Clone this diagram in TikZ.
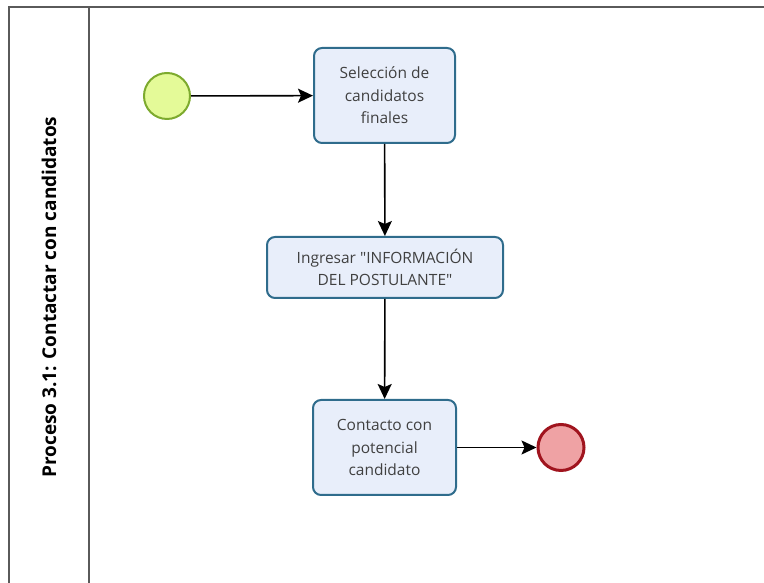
\documentclass[tikz,border=0pt]{standalone}
\usepackage{fontspec}
\setmainfont{Open Sans}
\usetikzlibrary{arrows.meta}
\definecolor{taskfill}{HTML}{E8EEFA}
\definecolor{taskline}{HTML}{2F6C8C}
\definecolor{startfill}{HTML}{E4FA98}
\definecolor{startline}{HTML}{7DAA2E}
\definecolor{endfill}{HTML}{EFA2A4}
\definecolor{endline}{HTML}{A0141E}
\definecolor{poolline}{HTML}{5A5A5A}
\begin{document}
\begin{tikzpicture}[x=1pt, y=1pt,
  task/.style={draw=taskline, fill=taskfill, line width=2pt, rounded corners=8pt,
    align=center, text=black!75, font=\fontsize{15.5}{22.5}\selectfont, inner sep=0pt},
  startev/.style={circle, draw=startline, fill=startfill, line width=2pt, minimum size=46pt, inner sep=0pt},
  endev/.style={circle, draw=endline, fill=endfill, line width=3pt, minimum size=46pt, inner sep=0pt},
  flow/.style={line width=1.6pt, -{Stealth[length=15pt, width=14pt, inset=3pt]}}]

\useasboundingbox (0,0) rectangle (764,583);

% pool and lane
\draw[poolline, line width=1.8pt] (9,0) -- (9,576) -- (764,576);
\draw[poolline, line width=1.8pt] (89,0) -- (89,576);
\node[rotate=90, font=\fontsize{19}{21}\selectfont\bfseries] (lane) at (49,286) {Proceso 3.1: Contactar con candidatos};

% events and tasks
\node[startev] (start) at (167,487) {};
\node[task, minimum width=141pt, minimum height=95pt] (sel) at (384.5,487.5) {Selección de\\candidatos\\finales};
\node[task, minimum width=236pt, minimum height=61pt] (ing) at (385,315.5) {Ingresar \textquotedbl INFORMACIÓN\\DEL POSTULANTE\textquotedbl};
\node[task, minimum width=143pt, minimum height=95pt] (cont) at (384.5,135.5) {Contacto con\\potencial\\candidato};
\node[endev] (fin) at (561,135.5) {};

% flows
\draw[flow] (start) -- (sel);
\draw[flow] (sel) -- (ing);
\draw[flow] (ing) -- (cont);
\draw[flow] (cont) -- (fin);
\end{tikzpicture}
\end{document}
